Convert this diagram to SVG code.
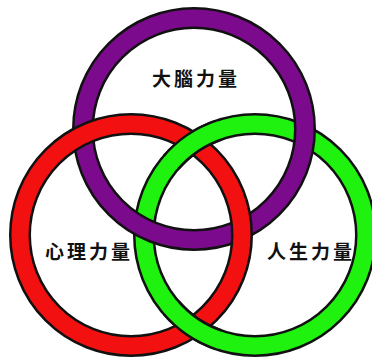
<svg xmlns="http://www.w3.org/2000/svg" width="372" height="360" viewBox="0 0 372 360">
  <style>
    .edge { fill: none; stroke: #111; stroke-width: 22; }
    .purple { fill: none; stroke: #7B0A8C; stroke-width: 17; }
    .red { fill: none; stroke: #F21010; stroke-width: 17; }
    .green { fill: none; stroke: #1FF20F; stroke-width: 17; }
    .label { font-family: "Noto Sans CJK TC", "Noto Sans CJK SC", sans-serif; font-size: 19px; font-weight: 700; fill: #111; letter-spacing: 3px; text-anchor: middle; }
  </style>
  <rect x="0" y="0" width="372" height="360" fill="#fff"/>
  <g id="ring-life">
    <circle class="edge" cx="255" cy="235" r="111"/>
    <circle class="green" cx="255" cy="235" r="111"/>
  </g>
  <g id="ring-brain">
    <circle class="edge" cx="194" cy="129" r="111"/>
    <circle class="purple" cx="194" cy="129" r="111"/>
  </g>
  <g id="ring-mind">
    <circle class="edge" cx="131" cy="235" r="111"/>
    <circle class="red" cx="131" cy="235" r="111"/>
  </g>
  <g id="ring-life-over">
    <path class="edge" d="M171.23,162.17 A111,111 0 0 1 218.86,130.05"/>
    <path class="green" d="M169.97,163.65 A111,111 0 0 1 220.70,129.43"/>
    <path class="edge" d="M218.86,339.95 A111,111 0 0 1 171.23,307.83"/>
    <path class="green" d="M220.70,340.57 A111,111 0 0 1 169.97,306.35"/>
  </g>
  <g id="labels">
    <text class="label" x="196" y="86">大腦力量</text>
    <text class="label" x="89" y="259">心理力量</text>
    <text class="label" x="311" y="259">人生力量</text>
  </g>
</svg>
